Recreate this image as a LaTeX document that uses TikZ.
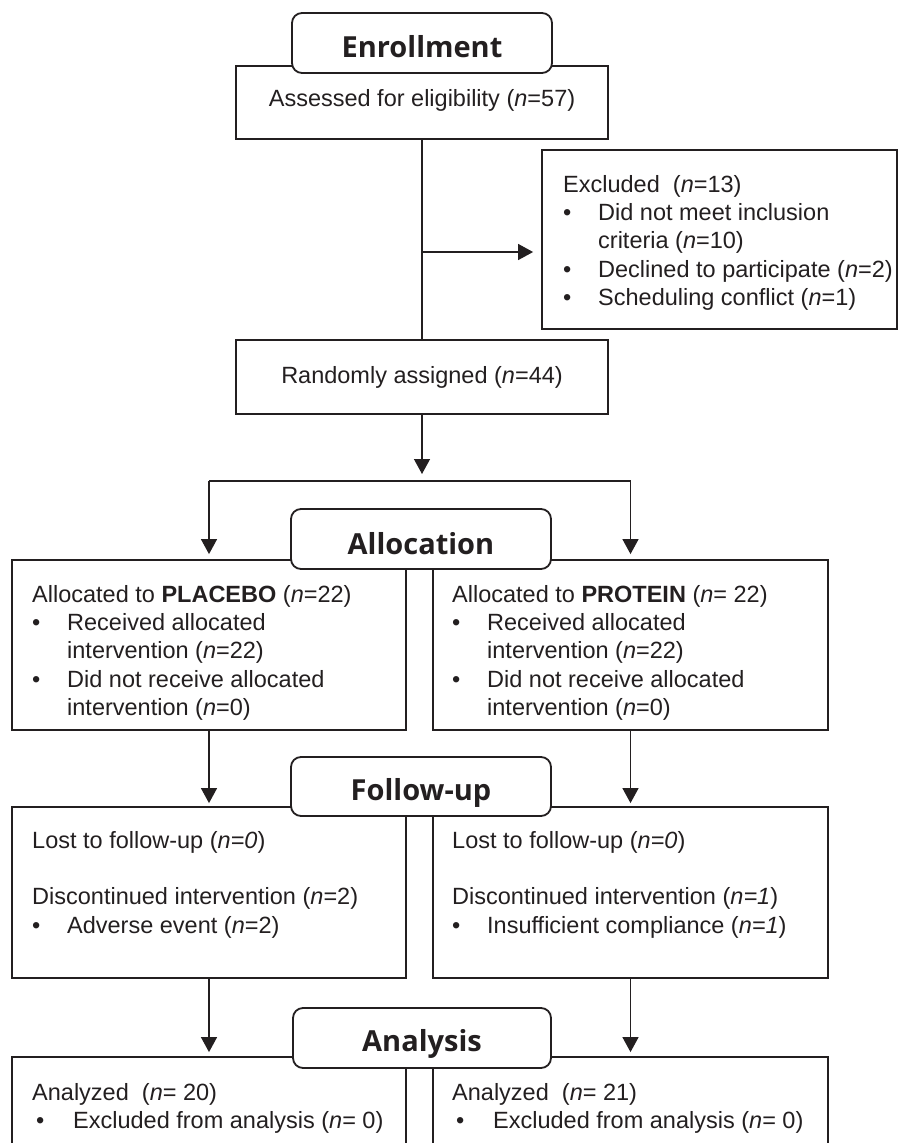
\documentclass[tikz,border=0pt]{standalone}
\usepackage{fontspec}
\setmainfont{Liberation Sans}
\newfontfamily\headfont{Open Sans}
\usetikzlibrary{arrows.meta,fit}
\definecolor{ink}{RGB}{35,31,32}
\newcommand{\bul}{\makebox[35pt][l]{\textbullet}}
\newcommand{\ind}{\hspace*{35pt}}
\newcommand{\abul}{\hspace*{4pt}\makebox[37pt][l]{\textbullet}}
\begin{document}
\begin{tikzpicture}[x=1pt,y=-1pt,
  box/.style={draw=ink, line width=1.8pt, inner sep=0pt, fill=white},
  head/.style={draw=ink, line width=1.8pt, rounded corners=10pt, fill=white, inner sep=0pt},
  headtext/.style={anchor=base, inner sep=0pt, text=ink, font=\headfont\bfseries\fontsize{29}{34}\selectfont},
  body/.style={anchor=north west, inner sep=0pt, align=left, text=ink, font=\fontsize{23.5}{28.3}\selectfont},
  ctext/.style={anchor=base, inner sep=0pt, text=ink, font=\fontsize{23.5}{28.3}\selectfont},
  conn/.style={draw=ink, line width=1.3pt},
  arr/.style={conn, -{Triangle[width=16pt,length=15pt]}},
]
\useasboundingbox (0,0) rectangle (902,1143);
\clip (0,0) rectangle (902,1143);

% ---- rectangles
\node[box, fit={(236,66) (608,139)}] (assess) {};
\node[box, fit={(542,150) (897,329)}] (excl) {};
\node[box, fit={(236,340) (608,414)}] (rand) {};
\node[box, fit={(12,560) (406,730)}] (placebo) {};
\node[box, fit={(433,560) (828,730)}] (protein) {};
\node[box, fit={(12,807) (406,978)}] (fuL) {};
\node[box, fit={(433,807) (828,978)}] (fuR) {};
\node[box, fit={(12,1057) (406,1170)}] (anL) {};
\node[box, fit={(433,1057) (828,1170)}] (anR) {};

% ---- header boxes
\node[head, fit={(292,13) (552,73)}] (enr) {};
\node[head, fit={(291,509) (551,569)}] (alloc) {};
\node[head, fit={(291,757) (551,816)}] (fu) {};
\node[head, fit={(293,1008) (551,1068)}] (ana) {};

\node[headtext] (enrT) at (422,57) {Enrollment};
\node[headtext] (allocT) at (421,554) {Allocation};
\node[headtext] (fuT) at (421,800) {Follow-up};
\node[headtext] (anaT) at (422,1051) {Analysis};

% ---- connectors
\coordinate (br) at (422,252);
\coordinate (split) at (422,481);
\coordinate (splitL) at (209,481);
\coordinate (splitR) at (630.5,481);
\draw[conn] (assess.south) -- (rand.north);
\draw[arr, shorten >=8pt] (br) -- (br -| excl.west);
\draw[arr, shorten >=7pt] (rand.south) -- (split);
\draw[conn, line width=2.2pt] (splitL) -- (splitR);
\draw[arr, shorten >=5pt] (splitL) -- (splitL |- placebo.north);
\draw[arr, shorten >=5pt] (splitR) -- (splitR |- protein.north);
\draw[arr, shorten >=3pt] (placebo.south) -- (fuL.north);
\draw[arr, shorten >=3pt] (protein.south) -- (fuR.north);
\draw[arr, shorten >=4pt] (fuL.south) -- (anL.north);
\draw[arr, shorten >=4pt] (fuR.south) -- (anR.north);

% ---- texts
\node[ctext] (assessT) at (422,106) {Assessed for eligibility (\textit{n}=57)};
\node[ctext] (randT) at (422,383) {Randomly assigned (\textit{n}=44)};

\node[body] (exclT) at (563,175) {Excluded\ \ (\textit{n}=13)\\
\bul Did not meet inclusion\\
\ind criteria (\textit{n}=10)\\
\bul Declined to participate (\textit{n}=2)\\
\bul Scheduling conflict (\textit{n}=1)};

\node[body] (placeboT) at (32,585) {Allocated to \textbf{PLACEBO} (\textit{n}=22)\\
\bul Received allocated\\
\ind intervention (\textit{n}=22)\\
\bul Did not receive allocated\\
\ind intervention (\textit{n}=0)};

\node[body] (proteinT) at (452,585) {Allocated to \textbf{PROTEIN} (\textit{n}= 22)\\
\bul Received allocated\\
\ind intervention (\textit{n}=22)\\
\bul Did not receive allocated\\
\ind intervention (\textit{n}=0)};

\node[body] (fuLT) at (32,831) {Lost to follow-up (\textit{n=0})\\[28.3pt]
Discontinued intervention (\textit{n}=2)\\
\bul Adverse event (\textit{n}=2)};

\node[body] (fuRT) at (452,831) {Lost to follow-up (\textit{n=0})\\[28.3pt]
Discontinued intervention (\textit{n=1})\\
\bul Insufficient compliance (\textit{n=1})};

\node[body] (anLT) at (32,1083) {Analyzed\ \ (\textit{n}= 20)\\
\abul Excluded from analysis (\textit{n}= 0)};

\node[body] (anRT) at (452,1083) {Analyzed\ \ (\textit{n}= 21)\\
\abul Excluded from analysis (\textit{n}= 0)};
\end{tikzpicture}
\end{document}
